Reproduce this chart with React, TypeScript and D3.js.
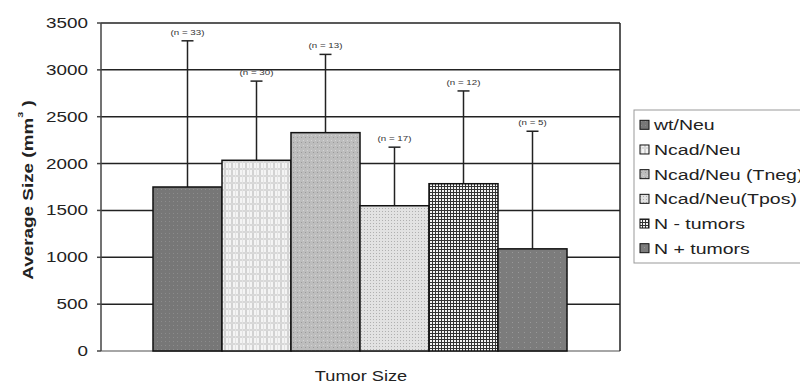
import { useEffect, useRef } from "react";
import * as d3 from "d3";

const groups = ["wt/Neu", "Ncad/Neu", "Ncad/Neu (Tneg)", "Ncad/Neu(Tpos)", "N - tumors", "N + tumors"];
const means = [1750, 2035, 2330, 1550, 1785, 1090];
const errorTops = [3310, 2880, 3165, 2175, 2775, 2345];
const counts = [33, 30, 13, 17, 12, 5];
const yTicks = [0, 500, 1000, 1500, 2000, 2500, 3000, 3500];

const W = 800;
const H = 384;
const plot = { left: 101, right: 620, top: 23, bottom: 351 };
const font = "Arial, 'Liberation Sans', Helvetica, sans-serif";
// the source image is stretched sideways, so the text is too
const SX = 1.3;

const addPatterns = (defs) => {
  // wt/Neu: dark gray with faint dots
  const p1 = defs.append("pattern").attr("id", "p0").attr("patternUnits", "userSpaceOnUse").attr("width", 4).attr("height", 4);
  p1.append("rect").attr("width", 4).attr("height", 4).attr("fill", "#777");
  p1.append("rect").attr("x", 1).attr("y", 1).attr("width", 1).attr("height", 1).attr("fill", "#8c8c8c");

  // Ncad/Neu: light plaid
  const p2 = defs.append("pattern").attr("id", "p1").attr("patternUnits", "userSpaceOnUse").attr("width", 7).attr("height", 7);
  p2.append("rect").attr("width", 7).attr("height", 7).attr("fill", "#f4f4f4");
  p2.append("rect").attr("x", 0).attr("width", 2).attr("height", 7).attr("fill", "#d2d2d2");
  p2.append("rect").attr("y", 0).attr("width", 7).attr("height", 2).attr("fill", "#d8d8d8");
  p2.append("rect").attr("x", 4).attr("width", 1).attr("height", 7).attr("fill", "#e2e2e2");

  // Ncad/Neu (Tneg): medium gray dotted
  const p3 = defs.append("pattern").attr("id", "p2").attr("patternUnits", "userSpaceOnUse").attr("width", 4).attr("height", 5);
  p3.append("rect").attr("width", 4).attr("height", 5).attr("fill", "#bdbdbd");
  p3.append("rect").attr("x", 1).attr("y", 2).attr("width", 1).attr("height", 1).attr("fill", "#9a9a9a");
  p3.append("rect").attr("x", 3).attr("y", 0).attr("width", 1).attr("height", 1).attr("fill", "#d4d4d4");

  // Ncad/Neu(Tpos): light gray fine dots
  const p4 = defs.append("pattern").attr("id", "p3").attr("patternUnits", "userSpaceOnUse").attr("width", 3).attr("height", 3);
  p4.append("rect").attr("width", 3).attr("height", 3).attr("fill", "#e2e2e2");
  p4.append("rect").attr("x", 1).attr("y", 1).attr("width", 1).attr("height", 1).attr("fill", "#b0b0b0");

  // N - tumors: fine black grid
  const p5 = defs.append("pattern").attr("id", "p4").attr("patternUnits", "userSpaceOnUse").attr("width", 3).attr("height", 3);
  p5.append("rect").attr("width", 3).attr("height", 3).attr("fill", "#f4f4f4");
  p5.append("rect").attr("width", 1).attr("height", 3).attr("fill", "#333");
  p5.append("rect").attr("width", 3).attr("height", 1).attr("fill", "#333");

  // N + tumors: dark gray with faint dots
  const p6 = defs.append("pattern").attr("id", "p5").attr("patternUnits", "userSpaceOnUse").attr("width", 6).attr("height", 5);
  p6.append("rect").attr("width", 6).attr("height", 5).attr("fill", "#7c7c7c");
  p6.append("rect").attr("x", 2).attr("y", 2).attr("width", 1).attr("height", 1).attr("fill", "#999");
};

const at = (x, y) => `translate(${x},${y}) scale(${SX},1)`;

export default function App() {
  const ref = useRef(null);

  useEffect(() => {
    const svg = d3.select(ref.current);
    svg.selectAll("*").remove();

    const defs = svg.append("defs");
    addPatterns(defs);

    const y = d3.scaleLinear().domain([0, 3500]).range([plot.bottom, plot.top]);
    const x = d3
      .scaleBand()
      .domain(groups)
      .range([plot.left + 52, plot.right - 53])
      .paddingInner(0);
    const mid = (d) => (x(d) || 0) + x.bandwidth() / 2;

    // gridlines
    svg
      .selectAll("line.grid")
      .data(yTicks)
      .join("line")
      .attr("class", "grid")
      .attr("x1", plot.left)
      .attr("x2", plot.right)
      .attr("y1", (d) => y(d))
      .attr("y2", (d) => y(d))
      .attr("stroke", (d) => (d === 0 ? "#888" : "#222"))
      .attr("stroke-width", 1.5);

    svg
      .append("line")
      .attr("x1", plot.right)
      .attr("x2", plot.right)
      .attr("y1", plot.top)
      .attr("y2", plot.bottom)
      .attr("stroke", "#222")
      .attr("stroke-width", 1.5);

    // error bars (behind bars)
    svg
      .selectAll("line.err")
      .data(groups)
      .join("line")
      .attr("class", "err")
      .attr("x1", mid)
      .attr("x2", mid)
      .attr("y1", (_, i) => y(means[i]))
      .attr("y2", (_, i) => y(errorTops[i]))
      .attr("stroke", "#222")
      .attr("stroke-width", 1.5);

    svg
      .selectAll("line.cap")
      .data(groups)
      .join("line")
      .attr("class", "cap")
      .attr("x1", (d) => mid(d) - 6)
      .attr("x2", (d) => mid(d) + 6)
      .attr("y1", (_, i) => y(errorTops[i]))
      .attr("y2", (_, i) => y(errorTops[i]))
      .attr("stroke", "#222")
      .attr("stroke-width", 1.5);

    // bars
    svg
      .selectAll("rect.bar")
      .data(groups)
      .join("rect")
      .attr("class", "bar")
      .attr("x", (d) => x(d) || 0)
      .attr("y", (_, i) => y(means[i]))
      .attr("width", x.bandwidth())
      .attr("height", (_, i) => plot.bottom - y(means[i]))
      .attr("fill", (_, i) => `url(#p${i})`)
      .attr("stroke", "#111")
      .attr("stroke-width", 1.5);

    // n labels
    svg
      .selectAll("text.n")
      .data(groups)
      .join("text")
      .attr("class", "n")
      .attr("transform", (d, i) => at(mid(d), y(errorTops[i]) - 6))
      .attr("text-anchor", "middle")
      .attr("font-family", font)
      .attr("font-size", 7.5)
      .attr("fill", "#333")
      .text((_, i) => `(n = ${counts[i]})`);

    // y axis
    svg
      .append("line")
      .attr("x1", plot.left)
      .attr("x2", plot.left)
      .attr("y1", plot.top)
      .attr("y2", plot.bottom)
      .attr("stroke", "#444")
      .attr("stroke-width", 1.5);

    svg
      .selectAll("line.tick")
      .data(yTicks)
      .join("line")
      .attr("class", "tick")
      .attr("x1", plot.left - 4)
      .attr("x2", plot.left)
      .attr("y1", (d) => y(d))
      .attr("y2", (d) => y(d))
      .attr("stroke", "#444")
      .attr("stroke-width", 1.5);

    svg
      .selectAll("text.ylab")
      .data(yTicks)
      .join("text")
      .attr("class", "ylab")
      .attr("transform", (d) => at(88, y(d) + 5))
      .attr("text-anchor", "end")
      .attr("font-family", font)
      .attr("font-size", 14.5)
      .attr("fill", "#222")
      .text((d) => d);

    const yTitle = svg
      .append("text")
      .attr("transform", "translate(33,190) rotate(-90) scale(1.35,1)")
      .attr("text-anchor", "middle")
      .attr("font-family", font)
      .attr("font-size", 14)
      .attr("font-weight", "bold")
      .attr("fill", "#222");
    yTitle.append("tspan").text("Average Size (mm");
    yTitle.append("tspan").attr("dy", -10).attr("font-size", 8).text("3");
    yTitle.append("tspan").attr("dy", 10).text(" )");

    svg
      .append("text")
      .attr("transform", at(361, 381))
      .attr("text-anchor", "middle")
      .attr("font-family", font)
      .attr("font-size", 14)
      .attr("fill", "#222")
      .text("Tumor Size");

    // legend
    const legend = svg.append("g");
    legend
      .append("rect")
      .attr("x", 634)
      .attr("y", 110)
      .attr("width", 180)
      .attr("height", 153)
      .attr("fill", "#fff")
      .attr("stroke", "#999")
      .attr("stroke-width", 1);

    const rowY = d3.scaleBand().domain(groups).range([110, 263]).paddingOuter(0.1);

    legend
      .selectAll("rect.key")
      .data(groups)
      .join("rect")
      .attr("class", "key")
      .attr("x", 640)
      .attr("y", (d) => (rowY(d) || 0) + rowY.bandwidth() / 2 - 4.5)
      .attr("width", 9)
      .attr("height", 9)
      .attr("fill", (_, i) => `url(#p${i})`)
      .attr("stroke", "#111")
      .attr("stroke-width", 1);

    legend
      .selectAll("text.key-label")
      .data(groups)
      .join("text")
      .attr("class", "key-label")
      .attr("transform", (d) => at(654, (rowY(d) || 0) + rowY.bandwidth() / 2 + 5.5))
      .attr("font-family", font)
      .attr("font-size", 15)
      .attr("fill", "#222")
      .text((d) => d);
  }, []);

  return (
    <svg
      ref={ref}
      width={W}
      height={H}
      viewBox={`0 0 ${W} ${H}`}
      style={{ position: "absolute", left: 0, top: 0, background: "#fff" }}
    />
  );
}
